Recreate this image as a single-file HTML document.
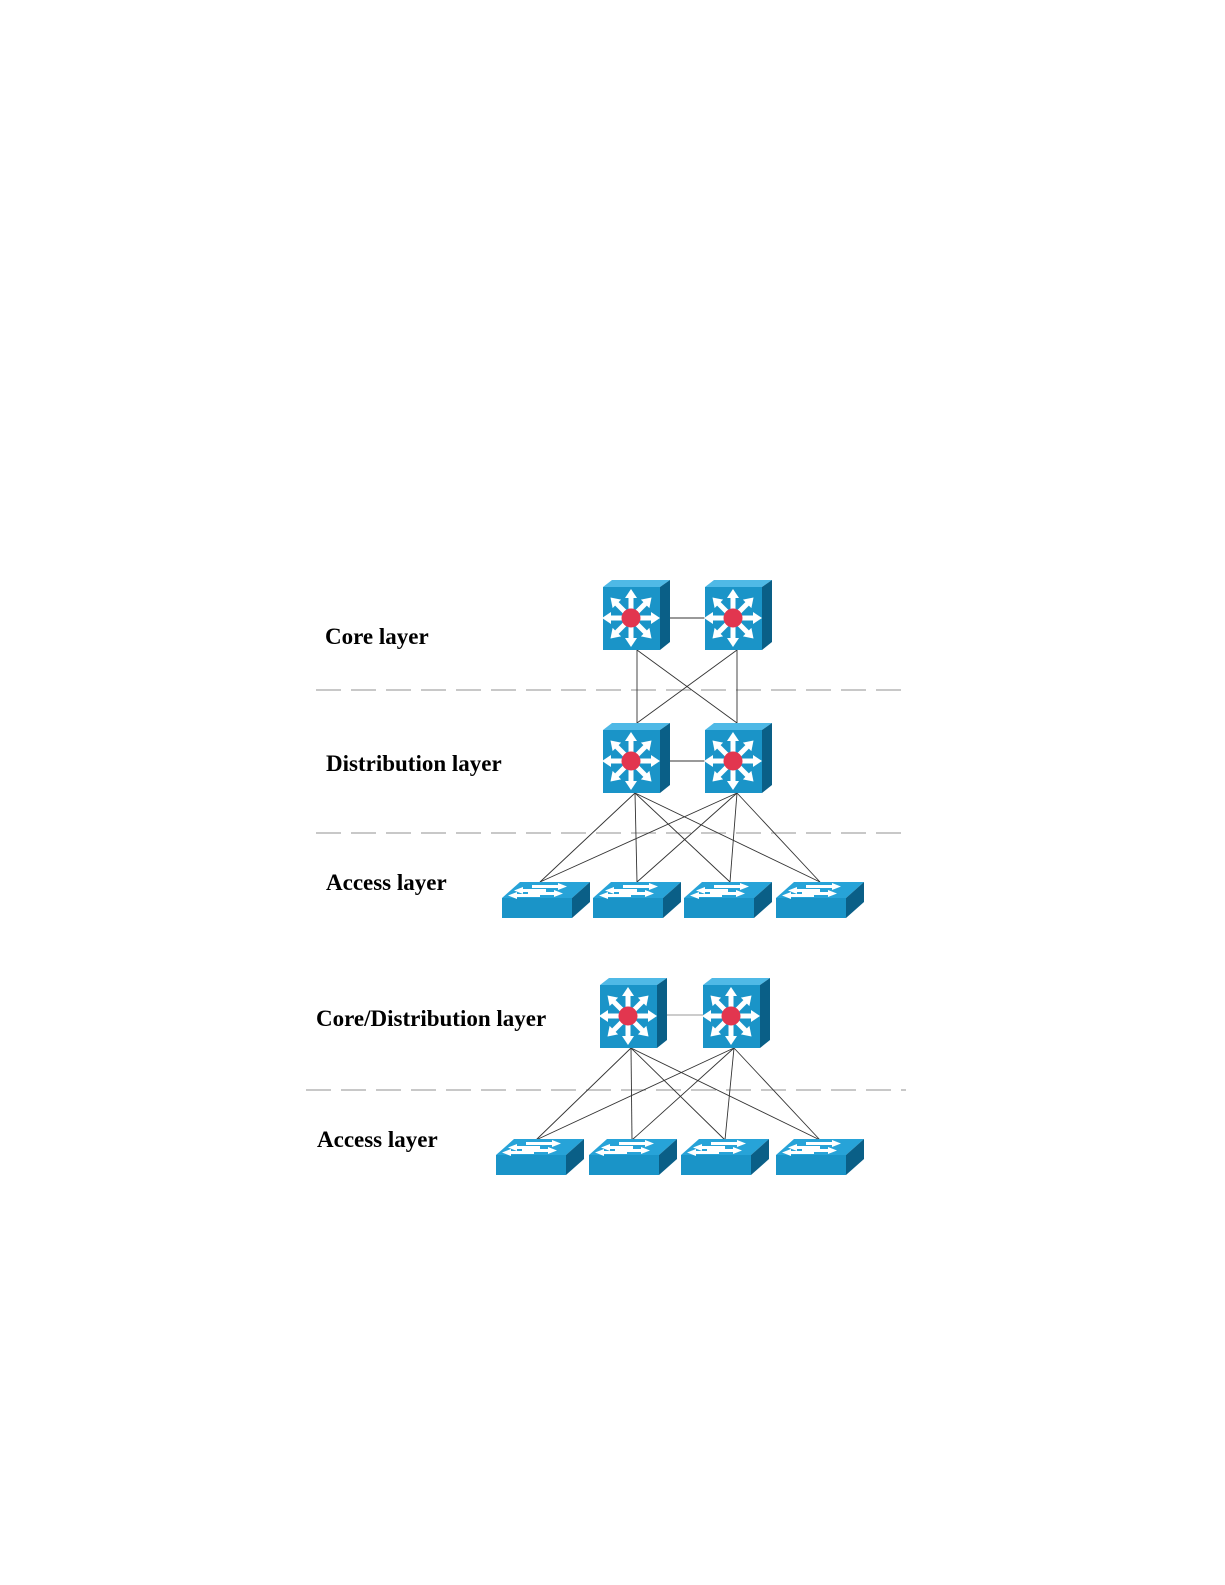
<!DOCTYPE html>
<html><head><meta charset="utf-8"><style>
html,body{margin:0;padding:0;background:#fff;}
svg{display:block;}
text{font-family:"Liberation Serif",serif;font-weight:bold;font-size:23px;fill:#000;}
</style></head><body>
<svg width="1225" height="1585" viewBox="0 0 1225 1585" xmlns="http://www.w3.org/2000/svg">
<defs>
<g id="arr">
  <line x1="0" y1="0" x2="0" y2="-21" stroke="#fff" stroke-width="5"/>
  <polygon points="-6,-20 6,-20 0,-29" fill="#fff"/>
</g>
<g id="l3">
  <polygon points="0,7 9,0 67,0 57,7" fill="#4fb9e6"/>
  <polygon points="57,7 67,0 67,62 57,70" fill="#0a5f87"/>
  <rect x="0" y="7" width="57" height="63" fill="#1a94c8"/>
  <g transform="translate(28,38)">
    <use href="#arr"/>
    <use href="#arr" transform="rotate(45)"/>
    <use href="#arr" transform="rotate(90)"/>
    <use href="#arr" transform="rotate(135)"/>
    <use href="#arr" transform="rotate(180)"/>
    <use href="#arr" transform="rotate(225)"/>
    <use href="#arr" transform="rotate(270)"/>
    <use href="#arr" transform="rotate(315)"/>
    <circle r="9.5" fill="#e2364f"/>
  </g>
</g>
<g id="sw">
  <polygon points="0,16 18,0 88,0 70,16" fill="#27a3d8"/>
  <polygon points="70,16 88,0 88,20 70,36" fill="#0a5f87"/>
  <rect x="0" y="16" width="70" height="20" fill="#1a94c8"/>
  <g fill="#fff">
    <polygon points="30,3 56,3 56,1 65,4.5 56,8 56,6 30,6"/>
    <polygon points="21,7 44,7 44,10 21,10 21,12 12,8.5 21,5"/>
    <polygon points="26,10 52,10 52,8 61,11.5 52,15 52,13 26,13"/>
    <polygon points="15,12 38,12 38,15 15,15 15,17 6,13.5 15,10"/>
  </g>
</g>
</defs>

<text x="325" y="644">Core layer</text>
<text x="326" y="771">Distribution layer</text>
<text x="326" y="890">Access layer</text>
<text x="316" y="1026">Core/Distribution layer</text>
<text x="317" y="1147">Access layer</text>

<g stroke="#a8a8a8" stroke-width="1.3" stroke-dasharray="25,10">
  <line x1="316" y1="690" x2="906" y2="690"/>
  <line x1="316" y1="833" x2="906" y2="833"/>
  <line x1="306" y1="1090" x2="906" y2="1090"/>
</g>

<g stroke="#333" stroke-width="0.9" fill="none">
  <line x1="660" y1="618" x2="705" y2="618"/>
  <line x1="660" y1="761" x2="705" y2="761"/>
  <line x1="657" y1="1015" x2="703" y2="1015" stroke="#999"/>
  <line x1="637" y1="650" x2="637" y2="723"/>
  <line x1="737" y1="650" x2="737" y2="723"/>
  <line x1="637" y1="650" x2="737" y2="723"/>
  <line x1="737" y1="650" x2="637" y2="723"/>
  <line x1="635" y1="793" x2="540" y2="882"/>
  <line x1="635" y1="793" x2="637" y2="882"/>
  <line x1="635" y1="793" x2="730" y2="882"/>
  <line x1="635" y1="793" x2="820" y2="882"/>
  <line x1="737" y1="793" x2="540" y2="882"/>
  <line x1="737" y1="793" x2="637" y2="882"/>
  <line x1="737" y1="793" x2="730" y2="882"/>
  <line x1="737" y1="793" x2="820" y2="882"/>
  <line x1="631" y1="1048" x2="536" y2="1140"/>
  <line x1="631" y1="1048" x2="632" y2="1140"/>
  <line x1="631" y1="1048" x2="725" y2="1140"/>
  <line x1="631" y1="1048" x2="820" y2="1140"/>
  <line x1="734" y1="1048" x2="536" y2="1140"/>
  <line x1="734" y1="1048" x2="632" y2="1140"/>
  <line x1="734" y1="1048" x2="725" y2="1140"/>
  <line x1="734" y1="1048" x2="820" y2="1140"/>
</g>

<use href="#l3" x="603" y="580"/>
<use href="#l3" x="705" y="580"/>
<use href="#l3" x="603" y="723"/>
<use href="#l3" x="705" y="723"/>
<use href="#l3" x="600" y="978"/>
<use href="#l3" x="703" y="978"/>

<use href="#sw" x="502" y="882"/>
<use href="#sw" x="593" y="882"/>
<use href="#sw" x="684" y="882"/>
<use href="#sw" x="776" y="882"/>
<use href="#sw" x="496" y="1139"/>
<use href="#sw" x="589" y="1139"/>
<use href="#sw" x="681" y="1139"/>
<use href="#sw" x="776" y="1139"/>
</svg>
</body></html>
